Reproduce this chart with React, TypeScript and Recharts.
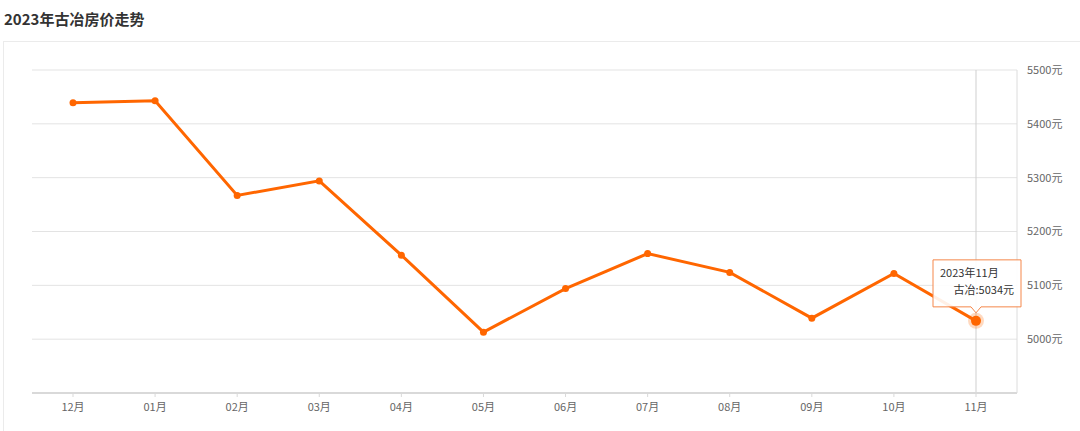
import { LineChart, Line, XAxis, YAxis, CartesianGrid, ReferenceLine } from 'recharts'

const months = ['12月', '01月', '02月', '03月', '04月', '05月', '06月', '07月', '08月', '09月', '10月', '11月']
const prices = [5439, 5443, 5267, 5294, 5156, 5013, 5094, 5159, 5124, 5039, 5122, 5034]
const yTicks = [5000, 5100, 5200, 5300, 5400, 5500]
const activeLabel = '2023年11月'
const seriesName = '古冶'

const ORANGE = '#ff6600'
const FONT = '"Noto Sans CJK SC", "Noto Sans", sans-serif'

const data = months.map((m, i) => ({ month: m, price: prices[i] }))
const activeIndex = data.length - 1

const PriceDot = (props: any) => {
  const { cx, cy, index } = props
  if (cx == null || cy == null) return null
  if (index !== activeIndex) {
    return <circle key={`dot-${index}`} cx={cx} cy={cy} r={3.5} fill={ORANGE} />
  }
  // 最后一个点：高亮 + 提示框
  const boxW = 88
  const boxH = 47
  const left = cx - 43
  const bottom = cy - 14
  const top = bottom - boxH
  return (
    <g key={`dot-${index}`}>
      <circle cx={cx} cy={cy} r={8} fill={ORANGE} fillOpacity={0.25} />
      <circle cx={cx} cy={cy} r={5} fill={ORANGE} />
      <path
        d={`M${left},${top} H${left + boxW} V${bottom} H${cx + 5} L${cx},${bottom + 6} L${cx - 5},${bottom} H${left} Z`}
        fill="#fff"
        fillOpacity={0.9}
        stroke="#f5874a"
        strokeWidth={1}
      />
      <text x={left + 7} y={top + 17} fontSize={11} fill="#333" fontFamily={FONT}>{activeLabel}</text>
      <text x={left + boxW - 7} y={top + 34} fontSize={11} fill="#333" fontFamily={FONT} textAnchor="end">
        {`${seriesName}:${prices[activeIndex]}元`}
      </text>
    </g>
  )
}

export default function App() {
  return (
    <div style={{ position: 'absolute', left: 0, top: 0, width: 1080, height: 431, background: '#fff', overflow: 'hidden' }}>
      <div style={{ position: 'absolute', left: 4, top: 9, fontSize: 15, fontWeight: 'bold', color: '#333', fontFamily: FONT, lineHeight: '20px' }}>
        2023年古冶房价走势
      </div>
      <div style={{ position: 'absolute', left: 3, top: 41, width: 1090, height: 400, border: '1px solid #ebebeb' }} />
      <div style={{ position: 'absolute', left: 0, top: 0 }}>
        <LineChart width={1080} height={431} data={data} margin={{ top: 70, right: 3, bottom: 8, left: 32 }}>
          <CartesianGrid vertical={false} stroke="#e3e3e3" />
          <XAxis
            dataKey="month"
            padding={{ left: 41, right: 41 }}
            axisLine={{ stroke: '#d9d9d9', strokeWidth: 2 }}
            tickLine={{ stroke: '#d9d9d9' }}
            tickSize={4}
            tickMargin={6}
            tick={{ fontSize: 11, fill: '#666', fontFamily: FONT }}
          />
          <YAxis
            orientation="right"
            width={60}
            domain={[4900, 5500]}
            ticks={yTicks}
            axisLine={{ stroke: '#dcdcdc' }}
            tickLine={false}
            tickMargin={4}
            tickFormatter={(v) => `${v}元`}
            tick={{ fontSize: 11, fill: '#666', fontFamily: FONT, textAnchor: 'start' }}
          />
          <ReferenceLine x={months[activeIndex]} stroke="#cfcfcf" />
          <Line
            type="linear"
            dataKey="price"
            stroke={ORANGE}
            strokeWidth={3}
            dot={PriceDot}
            activeDot={false}
            isAnimationActive={false}
          />
        </LineChart>
      </div>
    </div>
  )
}
